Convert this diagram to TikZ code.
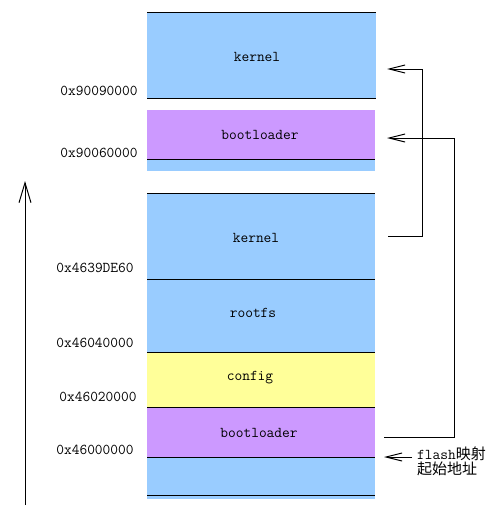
\documentclass[tikz,border=0pt]{standalone}
\usepackage{fontspec}
\newfontfamily\cjk{Noto Sans CJK SC}
\usetikzlibrary{arrows.meta}
\definecolor{memblue}{HTML}{99CCFF}
\definecolor{mempurple}{HTML}{CC99FF}
\definecolor{memyellow}{HTML}{FFFF99}
\begin{document}
\begin{tikzpicture}[x=1pt,y=-1pt,
  region/.style={rectangle, draw=none, inner sep=0pt, minimum width=228pt, anchor=north west},
  txt/.style={font=\fontsize{15}{16}\selectfont\ttfamily, inner sep=0pt},
  sep/.style={line width=1pt},
  link/.style={line width=1pt, -{Straight Barb[length=16pt,width=8pt]}},
  axis/.style={line width=1pt, -{Straight Barb[length=20pt,width=12pt]}},
]
\useasboundingbox (0,0) rectangle (496,522);
% regions
\node[region, fill=memblue, minimum width=229pt, minimum height=86pt] (k1) at (147,12) {};
\node[region, fill=mempurple, minimum height=49pt] (b1) at (147,110) {};
\node[region, fill=memblue, minimum height=12pt] (s1) at (147,159) {};
\node[region, fill=memblue, minimum height=86pt] (k2) at (147,193) {};
\node[region, fill=memblue, minimum height=73pt] (rf) at (147,279) {};
\node[region, fill=memyellow, minimum height=55pt] (cf) at (147,352) {};
\node[region, fill=mempurple, minimum height=50pt] (b2) at (147,407) {};
\node[region, fill=memblue, minimum height=42pt] (bs) at (147,457) {};
% separator lines
\draw[sep] (k1.north west) -- (k1.north east);
\draw[sep] (k1.south west) -- (k1.south east);
\draw[sep] (s1.north west) -- (s1.north east);
\draw[sep] (k2.north west) -- (k2.north east);
\draw[sep] (rf.north west) -- (rf.north east);
\draw[sep] (cf.north west) -- (cf.north east);
\draw[sep] (b2.north west) -- (b2.north east);
\draw[sep] (bs.north west) -- (bs.north east);
\draw[sep] ([yshift=4pt]bs.south west) -- ([yshift=4pt]bs.south east);
% region texts
\node[txt] (tk1) at (257,57) {kernel};
\node[txt] (tb1) at (260,135) {bootloader};
\node[txt] (tk2) at (256,238) {kernel};
\node[txt] (trf) at (253,313) {rootfs};
\node[txt] (tcf) at (250,378) {config};
\node[txt] (tb2) at (259,433) {bootloader};
% addresses
\node[txt] (a1) at (99,91) {0x90090000};
\node[txt] (a2) at (99,153) {0x90060000};
\node[txt] (a3) at (95,268) {0x4639DE60};
\node[txt] (a4) at (95,343) {0x46040000};
\node[txt] (a5) at (98,397) {0x46020000};
\node[txt] (a6) at (95,450) {0x46000000};
% address axis
\coordinate (ax0) at (25,505);
\coordinate (ax1) at (25,181);
\draw[axis] (ax0) -- (ax1);
% mapping connectors
\coordinate (m1s) at (388,236);
\coordinate (m1e) at (387,69);
\draw[link] (m1s) -- (422,236) -- (422,69) -- (m1e);
\coordinate (m2s) at (384,437);
\coordinate (m2e) at (387,138);
\draw[link] (m2s) -- (454,437) -- (454,138) -- (m2e);
\node[anchor=west, align=left, inner sep=0pt, font=\fontsize{15}{15.5}\selectfont\ttfamily] (fl) at (417,461.5)
  {flash{\cjk\fontsize{15}{15.5}\selectfont 映射}\\{\cjk\fontsize{15}{15.5}\selectfont 起始地址}};
\coordinate (m3e) at (384,457);
\draw[link] (fl.west |- m3e) ++(-5pt,0) -- (m3e);
\end{tikzpicture}
\end{document}
